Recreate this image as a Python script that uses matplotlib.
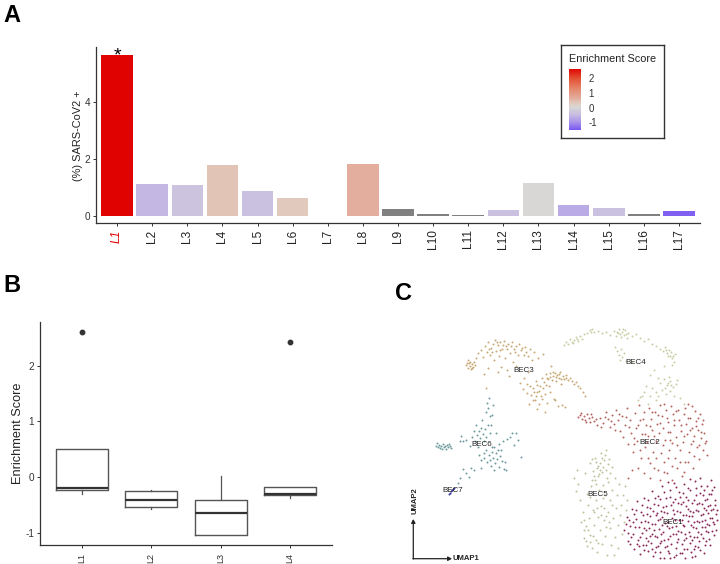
import matplotlib
matplotlib.use("Agg")
import matplotlib.pyplot as plt
import numpy as np
from matplotlib.colors import LinearSegmentedColormap

plt.rcParams['font.family'] = ['Liberation Sans', 'DejaVu Sans']
plt.rcParams['axes.unicode_minus'] = False

W, H = 720, 564

# panel A
clusters = ["L1", "L2", "L3", "L4", "L5", "L6", "L7", "L8", "L9", "L10", "L11", "L12", "L13", "L14", "L15", "L16", "L17"]
pct_pos = [5.63, 1.12, 1.08, 1.78, 0.87, 0.62, 0.0, 1.82, 0.23, 0.07, 0.03, 0.19, 1.15, 0.36, 0.27, 0.06, 0.15]
enrich = [2.6, -0.55, -0.38, 0.35, -0.42, 0.28, np.nan, 0.6, np.nan, np.nan, np.nan, -0.42, 0.02, -0.72, -0.42, np.nan, -1.45]
legend_ticks = [2, 1, 0, -1]

# panel B
box_names = ["L1", "L2", "L3", "L4"]
box_low = [-0.30, -0.56, -1.04, -0.37]
box_q1 = [-0.22, -0.54, -1.04, -0.31]
box_med = [-0.19, -0.40, -0.635, -0.30]
box_q3 = [0.51, -0.25, -0.40, -0.17]
box_high = [0.51, -0.23, 0.03, -0.17]
box_out = [[2.6], [], [], [2.42]]

# panel C, positions
bec1 = [(624,530),(627,517),(628,541),(630,526),(632,509),(633,534),(634,549),(636,519),(637,501),(638,540),
(639,527),(640,554),(641,512),(642,533),(643,545),(644,498),(645,521),(646,538),(647,507),(648,551),
(649,528),(650,516),(651,543),(652,491),(652,534),(653,556),(654,504),(655,524),(656,547),(657,513),
(657,537),(658,496),(659,529),(660,552),(660,519),(661,541),(662,486),(663,507),(663,532),(664,558),
(665,547),(665,523),(666,498),(667,513),(668,539),(669,553),(669,528),(670,490),(671,544),(671,505),
(672,518),(673,534),(674,557),(674,483),(675,499),(676,526),(676,548),(677,511),(678,539),(679,492),
(679,520),(680,553),(681,504),(681,532),(682,544),(683,515),(684,484),(684,526),(685,558),(686,497),
(686,538),(687,549),(688,509),(688,521),(689,532),(690,490),(690,543),(691,552),(692,503),(692,516),
(693,527),(694,537),(695,481),(695,546),(696,495),(696,510),(697,521),(698,532),(699,541),(699,503),
(700,550),(701,486),(701,515),(702,527),(703,495),(703,538),(704,508),(705,520),(705,545),(706,531),
(707,486),(707,499),(708,513),(709,525),(709,539),(710,505),(711,480),(711,494),(712,518),(712,531),
(713,509),(714,487),(714,524),(715,500),(716,514),(716,530),(629,520),(635,527),(643,515),(648,541),
(655,536),(661,511),(667,546),(673,510),(680,497),(684,540),(690,511),(694,522),(698,511),(702,504),
(706,510),(710,518),(678,531),(664,540),(656,515),(646,530),(639,546),(670,558),(682,553),(694,549),
(676,487),(690,479),(700,478),(668,482),(704,553),(630,544),(660,499),(652,524),(715,505),(712,490),
(686,515),(692,540),(672,527),(666,506),(658,546),(648,500),(696,528),(708,532),(683,502),(662,525),
(626,524),(631,537),(634,514),(637,544),(641,522),(644,550),(647,514),(650,536),(653,511),(655,552),
(658,520),(661,534),(664,512),(667,526),(670,536),(673,502),(675,520),(677,542),(680,512),(683,525),
(685,534),(688,500),(691,525),(693,512),(695,556),(697,504),(699,522),(701,534),(703,514),(705,500),
(707,524),(709,494),(711,510),(713,522),(714,535),(700,493),(688,488),(678,503),(664,492),(655,498),
(642,505),(636,510),(633,522),(628,533),(646,545),(652,549),(660,558),(668,551),(676,555),(684,549),
(692,557),(698,547),(706,541),(710,545),(717,520),(717,510),(690,536),(682,520),(674,514),(668,522),
(660,543),(654,530),(648,522),(640,537),(644,528),(686,506),(694,500),(702,521),(708,506),(704,490),
(696,488),(683,493),(670,497),(658,505),(650,508),(662,517),(676,534),(689,516),(697,537),(705,527)]
bec2 = [(578,417),(580,415),(582,419),(584,416),(585,420),(587,414),(589,418),(590,422),(592,417),(594,421),
(597,425),(600,418),(603,423),(606,412),(608,419),(610,427),(612,415),(614,424),(616,410),(618,420),
(620,431),(622,416),(623,437),(625,425),(627,408),(628,444),(630,420),(631,433),(633,452),(635,413),
(636,428),(637,441),(639,405),(640,420),(641,458),(642,434),(644,412),(645,447),(646,425),(648,436),
(649,408),(650,463),(651,419),(652,430),(653,452),(655,412),(656,441),(657,424),(658,470),(659,433),
(660,405),(661,453),(662,416),(663,428),(664,462),(665,440),(666,410),(667,473),(668,422),(669,450),
(670,432),(671,406),(672,443),(673,414),(674,425),(675,458),(676,437),(677,468),(678,410),(679,420),
(680,450),(681,431),(682,476),(683,442),(684,414),(685,462),(686,424),(687,434),(688,404),(689,452),
(690,418),(691,444),(692,428),(693,468),(694,436),(695,411),(696,421),(697,447),(698,430),(699,459),
(700,414),(701,438),(702,424),(703,450),(704,433),(705,443),(706,441),(707,455),(644,473),(638,468),
(632,470),(628,478),(650,478),(660,480),(672,480),(654,468),(668,458),(684,472),
(581,413),(586,422),(591,414),(596,419),(601,427),(605,417),(611,421),(615,430),(619,414),(626,417),
(629,427),(634,438),(638,425),(643,419),(647,442),(652,412),(654,436),(658,415),(663,445),(667,418),
(670,440),(674,420),(677,445),(681,425),(684,436),(688,418),(690,430),(693,441),(696,426),(698,418),
(701,432),(703,420),(699,445),(694,456),(688,462),(680,462),(672,466),(664,472),(656,458),(648,458),
(640,450),(634,444),(668,432),(660,423),(650,426),(645,434),(676,411),(685,408),(692,406),(664,404)]
bec3 = [(466,365),(468,368),(469,363),(470,366),(471,369),(472,364),(473,367),(474,362),(468,360),(476,358),
(478,353),(481,350),(483,357),(485,346),(487,352),(488,342),(490,355),(491,348),(493,344),(494,360),
(495,340),(496,351),(498,345),(499,356),(500,342),(501,367),(502,349),(504,341),(505,358),(506,346),
(508,344),(509,376),(510,353),(512,342),(513,362),(514,349),(516,346),(518,355),(519,344),(520,383),
(521,350),(523,389),(525,347),(526,352),(527,384),(528,356),(530,349),(531,395),(532,360),(533,388),
(534,352),(535,400),(536,381),(537,392),(538,358),(539,404),(540,386),(541,396),(542,378),(543,354),
(544,382),(545,394),(546,374),(547,403),(548,379),(549,386),(550,373),(551,366),(552,380),(553,376),
(554,399),(555,373),(556,381),(557,375),(558,406),(559,378),(560,372),(561,384),(562,405),(563,376),
(564,379),(565,407),(566,375),(568,380),(570,378),(572,381),(574,384),(576,382),(578,386),(580,388),
(583,392),(585,396),(528,372),(524,378),(516,366),(507,370),(498,372),(488,368),(484,374),(486,388),
(529,404),(537,409),(545,412),(555,400),(527,393),(550,392),
(467,363),(470,362),(472,368),(475,365),(489,349),(492,352),(497,342),(500,350),(503,345),(507,349),
(511,346),(515,352),(522,348),(524,355),(530,386),(534,392),(536,396),(539,391),(543,388),(547,378),
(550,377),(553,372),(556,377),(559,374),(561,379),(566,378),(533,400),(537,385),(542,399),(546,385)]
bec4 = [(564,345),(566,342),(568,344),(570,339),(572,342),(574,340),(576,337),(578,341),(580,336),(582,339),
(584,334),(587,333),(590,330),(592,329),(594,332),(598,331),(602,333),(606,332),(610,335),(614,331),
(616,336),(618,333),(619,329),(621,337),(622,332),(624,335),(625,330),(627,338),(628,333),(632,336),
(636,334),(640,338),(644,341),(648,339),(652,344),(656,346),(660,349),(663,351),(665,347),(667,353),
(669,350),(670,356),(672,358),(674,362),(675,354),(672,365),(615,347),(617,351),(619,355),(621,349),
(622,357),(624,353),(626,361),(620,360),(654,370),(650,375),(658,378),(664,366),(646,386),(660,383),
(664,379),(667,385),(670,381),(673,387),(676,384),(662,390),(666,394),(670,391),(674,396),(656,392),
(650,396),(644,392),(640,397),(638,400),(648,404),(656,400),(680,398),(684,404),(677,380),(632,362),
(573,343),(577,339),(591,332),(617,332),(620,334),(623,329),(626,334),(666,350),(668,356),(671,352),
(673,356),(668,383),(671,385),(665,388),(669,377),(652,388),(642,396),(658,396)]
bec5 = [(574,478),(576,491),(578,484),(580,500),(581,522),(583,512),(584,530),(585,473),(586,541),(587,494),
(588,505),(589,518),(590,463),(590,535),(591,486),(592,548),(593,471),(593,510),(594,525),(595,458),
(595,480),(596,540),(596,500),(597,468),(597,552),(598,476),(598,517),(599,490),(600,463),(600,530),
(601,453),(601,506),(602,472),(602,544),(603,485),(604,460),(604,520),(605,495),(605,536),(606,450),
(606,470),(607,555),(608,482),(608,512),(609,459),(610,528),(610,500),(611,545),(612,467),(612,490),
(613,518),(614,555),(615,478),(615,537),(616,508),(617,495),(618,548),(618,525),(619,484),(620,515),
(621,505),(622,534),(623,495),(624,522),(625,486),(626,510),(627,500),(590,497),(594,512),(586,526),
(599,474),(603,467),(607,478),(584,520),(598,543),(606,527),(612,505),(577,470),(592,459),(604,508),
(596,462),(598,466),(600,470),(594,476),(596,484),(592,480),(602,458),(605,455),(608,464),(610,473),
(584,538),(587,546),(590,542),(593,536),(588,530),(601,515),(597,508),(606,516),(609,522),(603,498)]
bec6 = [(436,446),(438,447),(439,445),(440,448),(441,446),(442,449),(443,444),(444,447),(445,446),(446,449),
(447,445),(448,447),(449,444),(450,446),(451,448),(437,443),(460,441),(463,441),(466,440),(470,446),
(472,437),(474,431),(475,441),(476,425),(477,435),(478,447),(479,431),(480,438),(481,428),(482,420),
(483,434),(484,441),(485,429),(486,412),(486,437),(487,403),(488,425),(488,408),(489,398),(490,433),
(490,416),(491,425),(492,447),(493,405),(484,453),(479,455),(481,460),(484,458),(486,450),(487,462),
(489,455),(490,460),(491,466),(492,452),(493,458),(494,447),(495,463),(496,453),(497,459),(498,450),
(499,444),(499,467),(500,456),(501,450),(502,461),(503,441),(504,469),(506,470),(507,439),(510,437),
(512,433),(514,445),(516,433),(518,440),(521,457),(481,468),(494,470),(471,468),(466,473),(463,469),
(460,478),(458,483),(469,477),(474,470),(461,436),(505,462),(496,433),(492,415)]
bec7 = [(449,494),(450,493),(451,491),(452,490),(453,489),(454,488)]

clusters_c = [bec1, bec2, bec3, bec4, bec5, bec6, bec7]
colors_c = ["#8a2a5a", "#b5645f", "#c9a875", "#c9cda6", "#b9c49b", "#6d9a9b", "#35349a"]
names_c = ["BEC1", "BEC2", "BEC3", "BEC4", "BEC5", "BEC6", "BEC7"]
label_x = [672.7, 650, 524, 636, 598, 482, 453]
label_y = [523, 443, 371, 363, 495, 445, 491]

# legend colour scale
scale_at = [-1.52, -1.0, -0.5, 0.0, 0.3, 0.6, 1.2, 2.0, 2.63]
scale_col = ["#7a58f2", "#a994ea", "#c8bce2", "#d8d8d6", "#e2c8bc", "#e3ae9e", "#e58a70", "#e34c30", "#e00000"]


def px_axes(x0, y0, x1, y1):
    # box in picture pixels, y going down
    return fig.add_axes([x0 / W, 1 - y1 / H, (x1 - x0) / W, (y1 - y0) / H])


def classic(ax):
    ax.spines['top'].set_visible(False)
    ax.spines['right'].set_visible(False)
    ax.spines['left'].set_linewidth(0.9)
    ax.spines['bottom'].set_linewidth(0.9)
    ax.spines['left'].set_color('#333333')
    ax.spines['bottom'].set_color('#333333')
    ax.tick_params(length=2.2, width=0.7, color='#333333')


fig = plt.figure(figsize=(7.2, 5.64), dpi=100)

# A
stops = [(v - scale_at[0]) / (scale_at[-1] - scale_at[0]) for v in scale_at]
cmap = LinearSegmentedColormap.from_list("enrich", list(zip(stops, scale_col)))


def score_color(v):
    if np.isnan(v):
        return "#808080"
    return cmap((v - scale_at[0]) / (scale_at[-1] - scale_at[0]))


ax_a = px_axes(96, 47, 700, 223.5)
ax_a.bar(range(len(clusters)), pct_pos, width=0.9, color=[score_color(v) for v in enrich])
ax_a.set_xlim(-0.6, 16.6)
ax_a.set_ylim(-0.274, 5.92)
ax_a.set_yticks([0, 2, 4])
ax_a.set_xticks(range(len(clusters)))
ax_a.set_xticklabels(clusters, rotation=90, fontsize=8.6, color='#222222')
ax_a.tick_params(axis='y', labelsize=7.2, labelcolor='#333333', pad=2)
ax_a.tick_params(axis='x', pad=2)
ax_a.get_xticklabels()[0].set_color('#e00000')
ax_a.get_xticklabels()[0].set_style('italic')
ax_a.set_ylabel("(%) SARS-CoV2 +", fontsize=7.9, color='#222222', labelpad=1)
classic(ax_a)
ax_a.text(0, 5.32, "*", ha='center', va='bottom', fontsize=14, color='black')

# legend
box = px_axes(561, 45, 664, 138)
box.set_xticks([])
box.set_yticks([])
for s in box.spines.values():
    s.set_linewidth(1.0)
    s.set_color('#333333')
box.text(8 / 103, 1 - 14 / 93, "Enrichment Score", transform=box.transAxes, fontsize=7.8, va='center', color='#222222')

bar = px_axes(569, 69, 581, 130)
scale_vals = np.linspace(scale_at[-1], scale_at[0], 200)
grad = np.array([score_color(v)[:3] for v in scale_vals]).reshape(-1, 1, 3)
bar.imshow(grad, aspect='auto', extent=[0, 1, scale_at[0], scale_at[-1]])
bar.set_xticks([])
bar.set_yticks(legend_ticks)
bar.tick_params(axis='y', right=False, left=False, labelleft=False, labelright=True, labelsize=7, labelcolor='#333333', pad=2)
for s in bar.spines.values():
    s.set_visible(False)

# B
ax_b = px_axes(40, 322, 331.7, 545.3)
stats = []
for i in range(len(box_names)):
    stats.append({'whislo': box_low[i], 'q1': box_q1[i], 'med': box_med[i], 'q3': box_q3[i],
                  'whishi': box_high[i], 'fliers': box_out[i], 'label': box_names[i]})
ax_b.bxp(stats, positions=range(len(box_names)), widths=0.75, showcaps=False,
         boxprops=dict(color='#555555', linewidth=1.0),
         whiskerprops=dict(color='#555555', linewidth=0.9),
         medianprops=dict(color='#333333', linewidth=1.6),
         flierprops=dict(marker='o', markerfacecolor='#333333', markeredgecolor='#333333', markersize=3.2))
ax_b.set_xlim(-0.6, 3.6)
ax_b.set_ylim(-1.219, 2.78)
ax_b.set_yticks([-1, 0, 1, 2])
ax_b.tick_params(axis='y', labelsize=7.2, labelcolor='#333333', pad=2)
ax_b.tick_params(axis='x', labelsize=6.5, labelcolor='#333333', labelrotation=90, pad=3)
ax_b.set_ylabel("Enrichment Score", fontsize=9.2, color='#222222', labelpad=1)
classic(ax_b)

# C
ax_c = px_axes(396, 280, 720, 564)
ax_c.set_xlim(396, 720)
ax_c.set_ylim(564, 280)
ax_c.axis('off')
ax_c.patch.set_alpha(0)
for pts, col in zip(clusters_c, colors_c):
    xy = np.array(pts)
    ax_c.scatter(xy[:, 0], xy[:, 1], s=2.0, color=col, linewidths=0)
for name, lx, ly in zip(names_c, label_x, label_y):
    ax_c.text(lx, ly, name, fontsize=5.8, ha='center', va='center', color='#222222')

ax_c.annotate("", xy=(413.3, 519), xytext=(413.3, 559), arrowprops=dict(arrowstyle='-|>,head_width=0.12,head_length=0.22', color='#222222', lw=0.9, shrinkA=0, shrinkB=0))
ax_c.annotate("", xy=(452, 558.7), xytext=(412.8, 558.7), arrowprops=dict(arrowstyle='-|>,head_width=0.12,head_length=0.22', color='#222222', lw=0.9, shrinkA=0, shrinkB=0))
ax_c.text(452.5, 559, "UMAP1", fontsize=5.5, fontweight='bold', va='center', ha='left', color='#222222')
ax_c.text(414.5, 501, "UMAP2", fontsize=5.5, fontweight='bold', va='center', ha='center', rotation=90, color='#222222')

# panel letters
fig.text(3 / W, 1 - 15 / H, "A", fontsize=17, fontweight='bold', va='center')
fig.text(3 / W, 1 - 286 / H, "B", fontsize=17, fontweight='bold', va='center')
fig.text(395 / W, 1 - 294 / H, "C", fontsize=17, fontweight='bold', va='center')

fig.savefig("out.png", dpi=100)
